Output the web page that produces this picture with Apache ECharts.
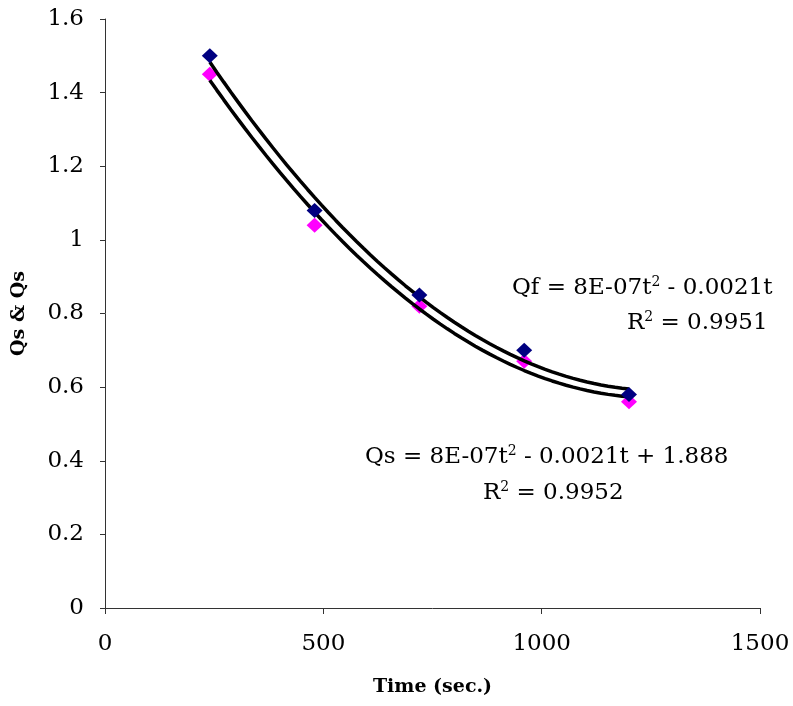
<!DOCTYPE html>
<html>
<head>
<meta charset="utf-8">
<script src="https://cdn.jsdelivr.net/npm/echarts@6/dist/echarts.min.js"></script>
<style>
  html, body { margin: 0; padding: 0; background: #fff; }
  #chart { width: 793px; height: 706px; }
</style>
</head>
<body>
<div id="chart"></div>
<script>
  // time of reading (sec.)
  var times = [240, 480, 720, 960, 1200]
  // Qf values (navy diamonds)
  var qfValues = [1.50, 1.08, 0.85, 0.70, 0.58]
  // Qs values (magenta diamonds)
  var qsValues = [1.45, 1.04, 0.82, 0.67, 0.56]

  var xTicks = [0, 500, 1000, 1500]
  var yTicks = [0, 0.2, 0.4, 0.6, 0.8, 1, 1.2, 1.4, 1.6]

  // least squares quadratic fit, like the spreadsheet trendline
  function polyFit2 (xs, ys) {
    var n = xs.length, s = [0, 0, 0, 0, 0], t = [0, 0, 0]
    for (var i = 0; i < n; i++) {
      var p = 1
      for (var k = 0; k <= 4; k++) {
        s[k] += p
        if (k <= 2) t[k] += p * ys[i]
        p *= xs[i]
      }
    }
    // normal equations, solve by cramer
    var m = [[s[0], s[1], s[2]], [s[1], s[2], s[3]], [s[2], s[3], s[4]]]
    function det (a) {
      return a[0][0] * (a[1][1] * a[2][2] - a[1][2] * a[2][1]) -
        a[0][1] * (a[1][0] * a[2][2] - a[1][2] * a[2][0]) +
        a[0][2] * (a[1][0] * a[2][1] - a[1][1] * a[2][0])
    }
    var d = det(m), c = []
    for (var j = 0; j < 3; j++) {
      var mm = m.map(function (row, r) { var rr = row.slice(); rr[j] = t[r]; return rr })
      c.push(det(mm) / d)
    }
    return c
  }

  function trendData (xs, ys) {
    var c = polyFit2(xs, ys)
    var out = []
    var x0 = xs[0], x1 = xs[xs.length - 1]
    for (var i = 0; i <= 60; i++) {
      var x = x0 + (x1 - x0) * i / 60
      out.push([x, c[0] + c[1] * x + c[2] * x * x])
    }
    return out
  }

  function pairs (xs, ys) {
    return xs.map(function (x, i) { return [x, ys[i]] })
  }

  var serif = 'DejaVu Serif'
  var supStyle = { fontFamily: serif, fontSize: 14, verticalAlign: 'top', padding: [0, 0, 12, 0] }

  var chart = echarts.init(document.getElementById('chart'))
  chart.setOption({
    backgroundColor: '#fff',
    animation: false,
    grid: { left: 105, right: 33, top: 19, bottom: 98 },
    xAxis: {
      type: 'value',
      min: 0,
      max: 1500,
      interval: 500,
      name: 'Time (sec.)',
      nameLocation: 'middle',
      nameGap: 70,
      nameTextStyle: { fontFamily: serif, fontWeight: 'bold', fontSize: 19, color: '#000' },
      axisLine: { lineStyle: { color: '#333', width: 1 } },
      axisTick: { show: true, length: 6, lineStyle: { color: '#333' } },
      axisLabel: { fontFamily: serif, fontSize: 23, color: '#000', margin: 25,
        formatter: function (v) { return String(v) } },
      splitLine: { show: false }
    },
    yAxis: {
      type: 'value',
      min: 0,
      max: 1.6,
      interval: 0.2,
      name: 'Qs & Qs',
      nameLocation: 'middle',
      nameGap: 76,
      nameRotate: 90,
      nameTextStyle: { fontFamily: serif, fontWeight: 'bold', fontSize: 19, color: '#000' },
      axisLine: { show: true, lineStyle: { color: '#333', width: 1 } },
      axisTick: { show: true, length: 5, lineStyle: { color: '#333' } },
      axisLabel: {
        fontFamily: serif, fontSize: 23, color: '#000', margin: 21,
        formatter: function (v) { return String(Math.round(v * 10) / 10) }
      },
      splitLine: { show: false }
    },
    series: [
      {
        name: 'Qs trend',
        type: 'line',
        data: trendData(times, qsValues),
        showSymbol: false,
        lineStyle: { color: '#000', width: 3.5 },
        z: 3
      },
      {
        name: 'Qf trend',
        type: 'line',
        data: trendData(times, qfValues),
        showSymbol: false,
        lineStyle: { color: '#000', width: 3.5 },
        z: 3
      },
      {
        name: 'Qs',
        type: 'scatter',
        data: pairs(times, qsValues),
        symbol: 'diamond',
        symbolSize: [16, 15],
        itemStyle: { color: '#ff00ff', opacity: 1 },
        z: 2
      },
      {
        name: 'Qf',
        type: 'scatter',
        data: pairs(times, qfValues),
        symbol: 'diamond',
        symbolSize: [16, 15],
        itemStyle: { color: '#000080', opacity: 1 },
        z: 4
      }
    ],
    graphic: [
      {
        type: 'text', x: 512, y: 288,
        style: {
          text: 'Qf = 8E-07t{sup|2} - 0.0021t',
          fontFamily: serif, fontSize: 23, fill: '#000', verticalAlign: 'middle',
          rich: { sup: supStyle }
        }
      },
      {
        type: 'text', x: 627, y: 323,
        style: {
          text: 'R{sup|2} = 0.9951',
          fontFamily: serif, fontSize: 23, fill: '#000', verticalAlign: 'middle',
          rich: { sup: supStyle }
        }
      },
      {
        type: 'text', x: 365, y: 457,
        style: {
          text: 'Qs = 8E-07t{sup|2} - 0.0021t + 1.888',
          fontFamily: serif, fontSize: 23, fill: '#000', verticalAlign: 'middle',
          rich: { sup: supStyle }
        }
      },
      {
        type: 'text', x: 483, y: 493,
        style: {
          text: 'R{sup|2} = 0.9952',
          fontFamily: serif, fontSize: 23, fill: '#000', verticalAlign: 'middle',
          rich: { sup: supStyle }
        }
      }
    ]
  })
</script>
</body>
</html>
